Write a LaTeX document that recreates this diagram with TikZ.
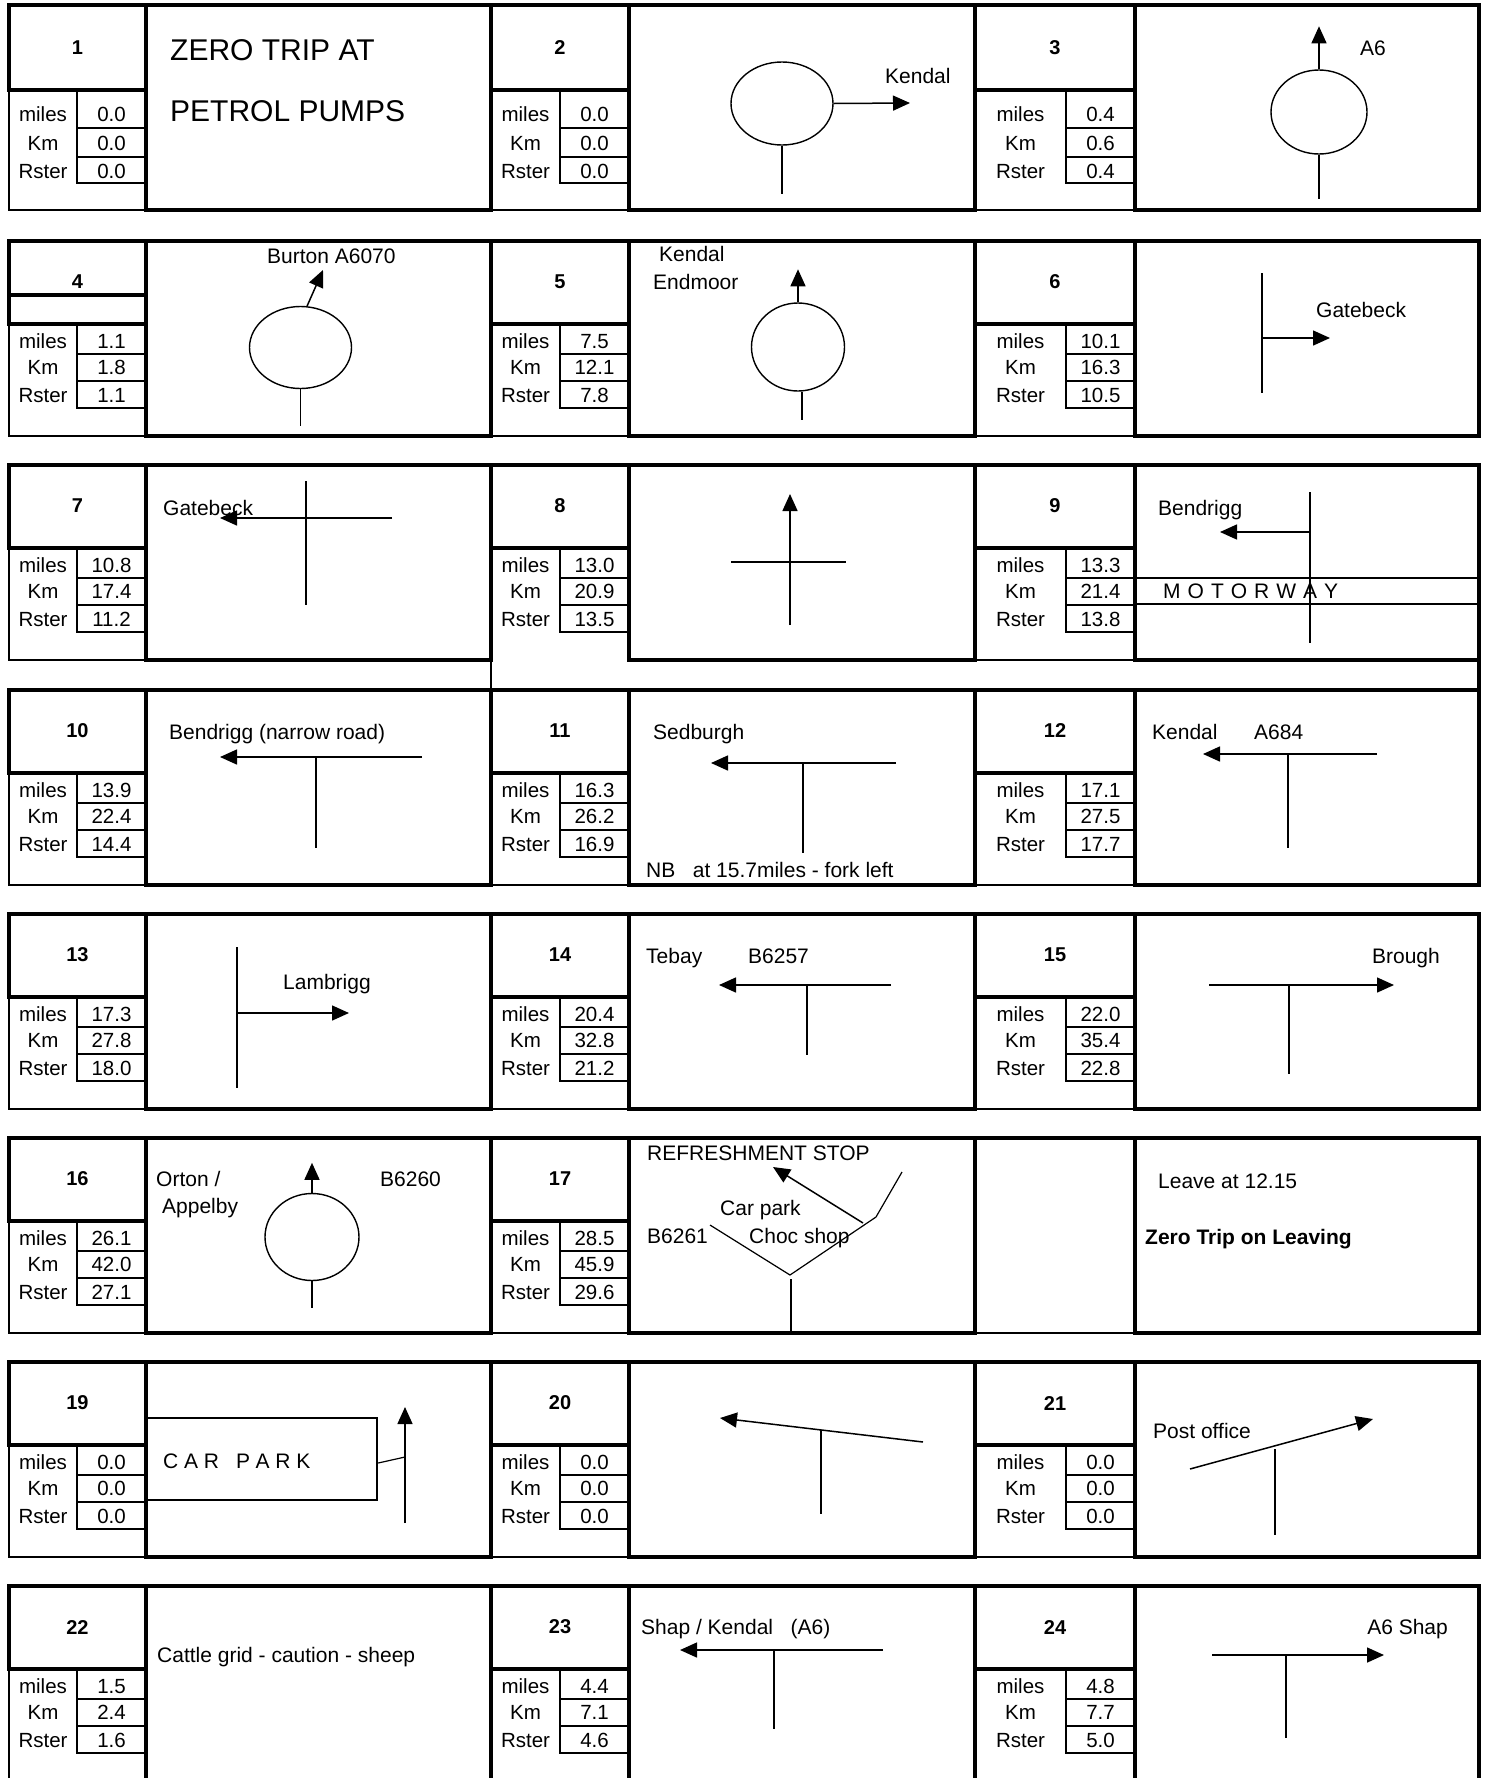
\documentclass[tikz,border=0pt]{standalone}
\usepackage{fontspec}
\setmainfont{Liberation Sans}
\usetikzlibrary{arrows.meta,shapes.geometric}
\tikzset{
 bthick/.style={line width=3.5pt, line cap=rect},
 bmid/.style={line width=2.5pt, line cap=rect},
 bthin/.style={line width=2pt},
 road/.style={line width=1.2pt},
 arr/.style={line width=1.5pt, -{Triangle[length=17pt,width=15pt]}},
 rbt/.style={draw, ellipse, line width=1.4pt, inner sep=0pt},
 tx/.style={inner sep=0pt, font=\fontsize{21}{25}\selectfont},
 tbig/.style={inner sep=0pt, font=\fontsize{30}{36}\selectfont},
 tbold/.style={inner sep=0pt, font=\fontsize{21}{25}\selectfont\bfseries},
 tv/.style={inner sep=0pt, font=\fontsize{20.5}{24}\selectfont},
 tnum/.style={inner sep=0pt, font=\fontsize{20}{23}\selectfont\bfseries},
}
\newcommand\setrow[1]{%
 \pgfmathsetmacro\rwT{#1}\pgfmathsetmacro\rwN{#1+83}\pgfmathsetmacro\rwM{#1+113}%
 \pgfmathsetmacro\rwK{#1+140}\pgfmathsetmacro\rwR{#1+167}\pgfmathsetmacro\rwB{#1+195}%
 \pgfmathsetmacro\rwC{#1+41}\pgfmathsetmacro\rwbM{#1+107}\pgfmathsetmacro\rwbK{#1+133}%
 \pgfmathsetmacro\rwbR{#1+161}}
% #1 cL, #2 cV, #3 cN, #4 number, #5 miles, #6 km, #7 rster, #8 id
\newcommand\lpart[8]{%
 \draw[bthick] (#1,\rwT) rectangle (#3,\rwN);
 \draw[bthin] (#2,\rwN) rectangle (#3,\rwM) (#2,\rwM) rectangle (#3,\rwK) (#2,\rwK) rectangle (#3,\rwR);
 \node[tnum] (n#8) at ({(#1+#3)/2},\rwC) {#4};
 \node[tv,anchor=base] (lm#8) at ({(#1+#2)/2},\rwbM) {miles};
 \node[tv,anchor=base] (lk#8) at ({(#1+#2)/2},\rwbK) {Km};
 \node[tv,anchor=base] (lr#8) at ({(#1+#2)/2},\rwbR) {Rster};
 \node[tv,anchor=base] (vm#8) at ({(#2+#3)/2},\rwbM) {#5};
 \node[tv,anchor=base] (vk#8) at ({(#2+#3)/2},\rwbK) {#6};
 \node[tv,anchor=base] (vr#8) at ({(#2+#3)/2},\rwbR) {#7};
}
\newcommand\lout[2]{\draw[bmid] (#1,\rwN) -- (#1,\rwB) -- (#2,\rwB);}
\newcommand\cpart[2]{\draw[bthick] (#1,\rwT) rectangle (#2,\rwB);}
\newcommand\lsp{\hspace{7pt}}
\newcommand\csp{\hspace{5.7pt}}
\begin{document}
\begin{tikzpicture}[x=1pt,y=-1pt]
\useasboundingbox (0,0) rectangle (1484,1778);
\fill[white] (0,0) rectangle (1484,1778);
\clip (0,0) rectangle (1484,1778);

% ---------------- Row 1 ----------------
\def\rwT{5}\def\rwN{90}\def\rwM{128}\def\rwK{157}\def\rwR{183}\def\rwB{210}
\def\rwC{47.5}\def\rwbM{121}\def\rwbK{150.5}\def\rwbR{178}
\lpart{9}{77}{146}{1}{0.0}{0.0}{0.0}{1}\lout{9}{146}\cpart{146}{491}
\lpart{491}{560}{629}{2}{0.0}{0.0}{0.0}{2}\lout{491}{629}\cpart{629}{975}
\lpart{975}{1066}{1135}{3}{0.4}{0.6}{0.4}{3}\lout{975}{1135}\cpart{1135}{1479}
% block 1
\node[tbig,anchor=base west] (t1a) at (170,60) {ZERO TRIP AT};
\node[tbig,anchor=base west] (t1b) at (170,121) {PETROL PUMPS};
% block 2
\node[rbt,minimum width=102pt,minimum height=83pt] (e2) at (782,103.5) {};
\coordinate (a2) at (910,103);
\draw[arr] (e2.east) -- (a2);
\draw[road] (e2.south) -- ++(0,48) coordinate (s2);
\node[tx,anchor=base west] (t2) at (885,83.5) {Kendal};
% block 3
\node[rbt,minimum width=96pt,minimum height=84pt] (e3) at (1319,112) {};
\draw[arr] (e3.north) -- ++(0,-43) coordinate (a3);
\draw[road] (e3.south) -- ++(0,44) coordinate (s3);
\node[tx,anchor=base west] (t3) at (1360,55) {A6};

% ---------------- Row 2 ----------------
\setrow{241}
\lpart{9}{77}{146}{4}{1.1}{1.8}{1.1}{4}\lout{9}{146}\cpart{146}{491}
\draw[bthick] (9,295) -- (146,295);
\lpart{491}{560}{629}{5}{7.5}{12.1}{7.8}{5}\lout{491}{629}\cpart{629}{975}
\lpart{975}{1066}{1135}{6}{10.1}{16.3}{10.5}{6}\lout{975}{1135}\cpart{1135}{1479}
% block 4
\node[rbt,minimum width=102pt,minimum height=82pt] (e4) at (300.5,347.5) {};
\coordinate (a4) at (323,270);
\draw[arr] (e4.81) -- (a4);
\draw[road] (e4.south) -- ++(0,37) coordinate (s4);
\node[tx,anchor=base west] (t4) at (267,263) {Burton A6070};
% block 5
\node[rbt,minimum width=93pt,minimum height=88pt] (e5) at (798,347) {};
\draw[arr] (e5.north) -- ++(0,-33) coordinate (a5);
\draw[road] ([xshift=4pt]e5.south) -- ++(0,28) coordinate (s5);
\node[tx,anchor=base west] (t5a) at (659,261) {Kendal};
\node[tx,anchor=base west] (t5b) at (653,289) {Endmoor};
% block 6
\coordinate (r6a) at (1262,273); \coordinate (r6b) at (1262,393);
\coordinate (r6c) at (1262,338); \coordinate (a6) at (1330,338);
\draw[road] (r6a) -- (r6b);
\draw[arr] (r6c) -- (a6);
\node[tx,anchor=base west] (t6) at (1316,317) {Gatebeck};

% ---------------- Row 3 ----------------
\setrow{465}
\lpart{9}{77}{146}{7}{10.8}{17.4}{11.2}{7}\lout{9}{146}\cpart{146}{491}
\lpart{491}{560}{629}{8}{13.0}{20.9}{13.5}{8}\cpart{629}{975}
\draw[bmid] (491,\rwN) -- (491,690);
\lpart{975}{1066}{1135}{9}{13.3}{21.4}{13.8}{9}\lout{975}{1135}\cpart{1135}{1479}
\draw[bthick] (1479,660) -- (1479,690);
% block 7
\coordinate (r7a) at (306,481); \coordinate (r7b) at (306,605);
\coordinate (r7c) at (392,518); \coordinate (a7) at (220,518);
\draw[road] (r7a) -- (r7b);
\draw[road] (r7c) -- (306,518);
\draw[arr] (306,518) -- (a7);
\node[tx,anchor=base west] (t7) at (163,515) {Gatebeck};
% block 8
\coordinate (r8a) at (790,625); \coordinate (a8) at (790,494);
\coordinate (r8c) at (731,562); \coordinate (r8d) at (846,562);
\draw[arr] (r8a) -- (a8);
\draw[road] (r8c) -- (r8d);
% block 9
\draw[bthin] (1135,578) -- (1479,578) (1135,604) -- (1479,604);
\node[tx,anchor=base west] (t9b) at (1163,598) {M\lsp O\lsp T\lsp O\lsp R\lsp W\lsp A\lsp Y};
\coordinate (r9a) at (1310,492); \coordinate (r9b) at (1310,643);
\coordinate (r9c) at (1310,532); \coordinate (a9) at (1220,532);
\draw[road] (r9a) -- (r9b);
\draw[arr] (r9c) -- (a9);
\node[tx,anchor=base west] (t9) at (1158,515) {Bendrigg};

% ---------------- Row 4 ----------------
\setrow{690}
\lpart{9}{77}{146}{10}{13.9}{22.4}{14.4}{10}\lout{9}{146}\cpart{146}{491}
\lpart{491}{560}{629}{11}{16.3}{26.2}{16.9}{11}\lout{491}{629}\cpart{629}{975}
\lpart{975}{1066}{1135}{12}{17.1}{27.5}{17.7}{12}\lout{975}{1135}\cpart{1135}{1479}
% block 10
\coordinate (r10a) at (422,757); \coordinate (a10) at (220,757);
\coordinate (r10c) at (316,757); \coordinate (r10d) at (316,848);
\draw[arr] (r10a) -- (a10);
\draw[road] (r10c) -- (r10d);
\node[tx,anchor=base west] (t10) at (169,739) {Bendrigg (narrow road)};
% block 11
\coordinate (r11a) at (896,763); \coordinate (a11) at (711,763);
\coordinate (r11c) at (803,763); \coordinate (r11d) at (803,853);
\draw[arr] (r11a) -- (a11);
\draw[road] (r11c) -- (r11d);
\node[tx,anchor=base west] (t11) at (653,739) {Sedburgh};
\node[tx,anchor=base west] (t11b) at (646,877) {NB\ \ \ at 15.7miles - fork left};
% block 12
\coordinate (r12a) at (1377,754); \coordinate (a12) at (1203,754);
\coordinate (r12c) at (1288,754); \coordinate (r12d) at (1288,848);
\draw[arr] (r12a) -- (a12);
\draw[road] (r12c) -- (r12d);
\node[tx,anchor=base west] (t12a) at (1152,739) {Kendal};
\node[tx,anchor=base west] (t12b) at (1254,739) {A684};

% ---------------- Row 5 ----------------
\setrow{914}
\lpart{9}{77}{146}{13}{17.3}{27.8}{18.0}{13}\lout{9}{146}\cpart{146}{491}
\lpart{491}{560}{629}{14}{20.4}{32.8}{21.2}{14}\lout{491}{629}\cpart{629}{975}
\lpart{975}{1066}{1135}{15}{22.0}{35.4}{22.8}{15}\lout{975}{1135}\cpart{1135}{1479}
% block 13
\coordinate (r13a) at (237,947); \coordinate (r13b) at (237,1088);
\coordinate (r13c) at (237,1013); \coordinate (a13) at (349,1013);
\draw[road] (r13a) -- (r13b);
\draw[arr] (r13c) -- (a13);
\node[tx,anchor=base west] (t13) at (283,989) {Lambrigg};
% block 14
\coordinate (r14a) at (891,985); \coordinate (a14) at (719,985);
\coordinate (r14c) at (807,985); \coordinate (r14d) at (807,1055);
\draw[arr] (r14a) -- (a14);
\draw[road] (r14c) -- (r14d);
\node[tx,anchor=base west] (t14a) at (646,963) {Tebay};
\node[tx,anchor=base west] (t14b) at (748,963) {B6257};
% block 15
\coordinate (r15a) at (1209,985); \coordinate (a15) at (1394,985);
\coordinate (r15c) at (1289,985); \coordinate (r15d) at (1289,1074);
\draw[arr] (r15a) -- (a15);
\draw[road] (r15c) -- (r15d);
\node[tx,anchor=base east] (t15) at (1440,963) {Brough};

% ---------------- Row 6 ----------------
\setrow{1138}
\lpart{9}{77}{146}{16}{26.1}{42.0}{27.1}{16}\lout{9}{146}\cpart{146}{491}
\lpart{491}{560}{629}{17}{28.5}{45.9}{29.6}{17}\lout{491}{629}\cpart{629}{975}
\draw[bmid] (975,1138) rectangle (1135,1333);
\draw[bthick] (975,1333) -- (975,1138) -- (1135,1138);
\cpart{1135}{1479}
% block 16
\node[rbt,minimum width=94pt,minimum height=87pt] (e16) at (312,1237) {};
\draw[arr] (e16.north) -- ++(0,-30) coordinate (a16);
\draw[road] (e16.south) -- ++(0,27) coordinate (s16);
\node[tx,anchor=base west] (t16a) at (156,1186) {Orton /};
\node[tx,anchor=base west] (t16b) at (162,1213) {Appelby};
\node[tx,anchor=base west] (t16c) at (380,1186) {B6260};
% block 17
\coordinate (r17a) at (863,1223); \coordinate (a17) at (773,1167);
\coordinate (r17b) at (902,1172); \coordinate (r17c) at (876,1217);
\coordinate (r17d) at (790,1275); \coordinate (r17e) at (710,1225);
\coordinate (r17f) at (791,1279); \coordinate (r17g) at (791,1331);
\draw[arr] (r17a) -- (a17);
\draw[road] (r17b) -- (r17c) -- (r17d) -- (r17e);
\draw[road] (r17f) -- (r17g);
\node[tx,anchor=base west] (t17a) at (647,1160) {REFRESHMENT STOP};
\node[tx,anchor=base west] (t17b) at (720,1215) {Car park};
\node[tx,anchor=base west] (t17c) at (647,1243) {B6261};
\node[tx,anchor=base west] (t17d) at (749,1243) {Choc shop};
% block 18
\node[tx,anchor=base west] (t18a) at (1158,1188) {Leave at 12.15};
\node[tbold,anchor=base west] (t18b) at (1145,1244) {Zero Trip on Leaving};

% ---------------- Row 7 ----------------
\setrow{1362}
\lpart{9}{77}{146}{19}{0.0}{0.0}{0.0}{19}\lout{9}{146}\cpart{146}{491}
\lpart{491}{560}{629}{20}{0.0}{0.0}{0.0}{20}\lout{491}{629}\cpart{629}{975}
\lpart{975}{1066}{1135}{21}{0.0}{0.0}{0.0}{21}\lout{975}{1135}\cpart{1135}{1479}
% block 19
\node[draw,line width=2.5pt,minimum width=231pt,minimum height=82pt,inner sep=0pt] (cp) at (261.5,1459) {};
\node[tx,anchor=base west] (t19) at (163,1468) {C\csp A\csp R\csp\csp\csp P\csp A\csp R\csp K};
\coordinate (r19a) at (405,1523); \coordinate (a19) at (405,1407);
\coordinate (r19c) at (405,1457);
\draw[arr] (r19a) -- (a19);
\draw[road] ([yshift=-4pt]cp.east) -- (r19c);
% block 20
\coordinate (r20a) at (923,1442); \coordinate (a20) at (720,1418);
\coordinate (r20c) at (821,1430); \coordinate (r20d) at (821,1514);
\draw[arr] (r20a) -- (a20);
\draw[road] (r20c) -- (r20d);
% block 21
\coordinate (r21a) at (1190,1469); \coordinate (a21) at (1373,1419);
\coordinate (r21c) at (1275,1449); \coordinate (r21d) at (1275,1535);
\draw[arr] (r21a) -- (a21);
\draw[road] (r21c) -- (r21d);
\node[tx,anchor=base west] (t21) at (1153,1438) {Post office};

% ---------------- Row 8 ----------------
\setrow{1586}
\lpart{9}{77}{146}{22}{1.5}{2.4}{1.6}{22}\lout{9}{146}\cpart{146}{491}
\lpart{491}{560}{629}{23}{4.4}{7.1}{4.6}{23}\lout{491}{629}\cpart{629}{975}
\lpart{975}{1066}{1135}{24}{4.8}{7.7}{5.0}{24}\lout{975}{1135}\cpart{1135}{1479}
% block 22
\node[tx,anchor=base west] (t22) at (157,1662) {Cattle grid - caution - sheep};
% block 23
\coordinate (r23a) at (883,1650); \coordinate (a23) at (680,1650);
\coordinate (r23c) at (774,1650); \coordinate (r23d) at (774,1729);
\draw[arr] (r23a) -- (a23);
\draw[road] (r23c) -- (r23d);
\node[tx,anchor=base west] (t23) at (641,1634) {Shap / Kendal\ \ \ (A6)};
% block 24
\coordinate (r24a) at (1212,1655); \coordinate (a24) at (1384,1655);
\coordinate (r24c) at (1286,1655); \coordinate (r24d) at (1286,1738);
\draw[arr] (r24a) -- (a24);
\draw[road] (r24c) -- (r24d);
\node[tx,anchor=base east] (t24) at (1448,1634) {A6 Shap};
\end{tikzpicture}
\end{document}
